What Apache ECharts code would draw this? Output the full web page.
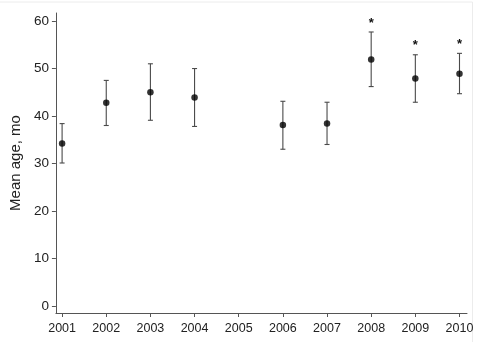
<!DOCTYPE html>
<html>
<head>
<meta charset="utf-8">
<script src="https://cdn.jsdelivr.net/npm/echarts@6/dist/echarts.min.js"></script>
<style>
html,body{margin:0;padding:0;background:#fff;}
#chart{width:480px;height:342px;}
</style>
</head>
<body>
<div id="chart"></div>
<script>
var years = [2001, 2002, 2003, 2004, 2006, 2007, 2008, 2009, 2010];
var means = [34.2, 42.8, 45.0, 43.9, 38.1, 38.4, 51.9, 47.9, 48.9];
var lower = [30.1, 38.0, 39.1, 37.8, 33.0, 34.0, 46.2, 42.9, 44.7];
var upper = [38.4, 47.5, 51.0, 50.0, 43.1, 42.9, 57.7, 52.9, 53.2];
var significant = [0, 0, 0, 0, 0, 0, 1, 1, 1];
var xTicks = [2001, 2002, 2003, 2004, 2005, 2006, 2007, 2008, 2009, 2010];
var yTicks = [0, 10, 20, 30, 40, 50, 60];

var chart = echarts.init(document.getElementById('chart'));
var axisColor = '#555';
var font = 'Liberation Sans, Arial, sans-serif';

var errData = years.map(function (y, i) { return [y, lower[i], upper[i], significant[i]]; });
var dotData = years.map(function (y, i) { return [y, means[i]]; });

chart.setOption({
  animation: false,
  backgroundColor: '#fff',
  graphic: [{
    type: 'rect', shape: { x: -2, y: 2, width: 474.5, height: 345 },
    style: { fill: 'none', stroke: '#ececec', lineWidth: 1 }, silent: true, z: -10
  }],
  grid: { left: 51, right: 13, top: 13, bottom: 29 },
  xAxis: {
    type: 'value', min: 2000.86, max: 2010.17,
    axisLine: { show: true, onZero: false, lineStyle: { color: axisColor, width: 1 } },
    axisTick: { show: true, customValues: xTicks, length: 4, lineStyle: { color: axisColor } },
    axisLabel: { customValues: xTicks, color: '#222', fontSize: 12.5, fontFamily: font, margin: 9,
      formatter: function (v) { return String(Math.round(v)); } },
    splitLine: { show: false }
  },
  yAxis: {
    type: 'value', min: -1.5, max: 61.7,
    name: 'Mean age, mo', nameLocation: 'middle', nameGap: 31,
    nameTextStyle: { color: '#222', fontSize: 15, fontFamily: font },
    axisLine: { show: true, onZero: false, lineStyle: { color: axisColor, width: 1 } },
    axisTick: { show: true, customValues: yTicks, length: 4, lineStyle: { color: axisColor } },
    axisLabel: { customValues: yTicks, color: '#222', fontSize: 13.5, fontFamily: font, margin: 7 },
    splitLine: { show: false }
  },
  series: [{
    type: 'custom',
    data: errData,
    renderItem: function (params, api) {
      var x = api.value(0);
      var lo = api.coord([x, api.value(1)]);
      var hi = api.coord([x, api.value(2)]);
      var hw = 2.5;
      var st = { stroke: '#4a4a4a', lineWidth: 1.1 };
      var children = [
        { type: 'line', shape: { x1: lo[0], y1: lo[1], x2: hi[0], y2: hi[1] }, style: st },
        { type: 'line', shape: { x1: lo[0] - hw, y1: lo[1], x2: lo[0] + hw, y2: lo[1] }, style: st },
        { type: 'line', shape: { x1: hi[0] - hw, y1: hi[1], x2: hi[0] + hw, y2: hi[1] }, style: st }
      ];
      if (api.value(3)) {
        children.push({ type: 'text', x: hi[0], y: hi[1] - 9,
          style: { text: '*', fill: '#111', font: 'bold 13px ' + font, align: 'center', verticalAlign: 'middle' } });
      }
      return { type: 'group', children: children };
    },
    z: 2
  }, {
    type: 'scatter',
    data: dotData,
    symbol: 'circle',
    symbolSize: 6.5,
    itemStyle: { color: '#000' },
    z: 3
  }]
});
</script>
</body>
</html>
